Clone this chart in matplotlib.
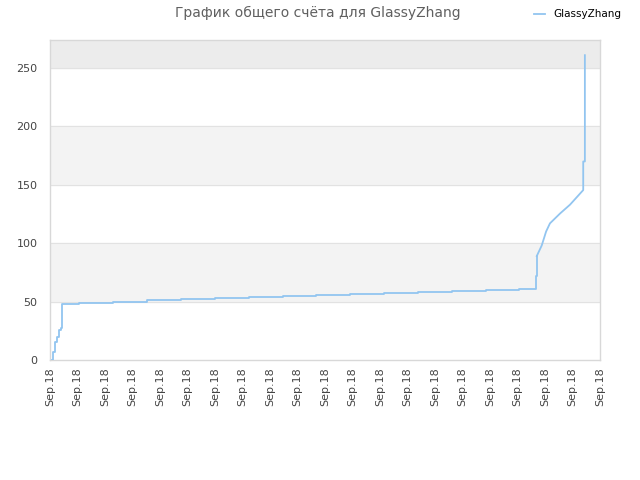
import matplotlib
matplotlib.use('Agg')
import matplotlib.pyplot as plt

title = 'График общего счёта для GlassyZhang'
series_name = 'GlassyZhang'
tick_labels = ['Sep.18'] * 21

# x in tick units (one unit = one tick step), score
# flat, step-wise part
step_x = [0.08, 0.11, 0.18, 0.25, 0.33, 0.40, 0.44, 1.05, 2.29, 3.53,
          4.76, 6.00, 7.24, 8.47, 9.67, 10.91, 12.15, 13.38, 14.62, 15.85,
          17.05, 17.67, 17.70]
step_y = [0, 7, 15, 20, 26, 27, 48, 49, 50, 51,
          52, 53, 54, 55, 55.8, 56.7, 57.5, 58.4, 59.2, 60.1,
          60.9, 72, 89]
# final climb
ramp_x = [17.70, 17.88, 18.04, 18.18, 18.55, 18.91, 19.39, 19.39, 19.45, 19.45]
ramp_y = [89, 98, 110, 117, 125.5, 133, 145.5, 170, 170, 261]

fig = plt.figure(figsize=(6.4, 4.8), dpi=100)
ax = fig.add_axes([50 / 640, 1 - 360 / 480, 550 / 640, 320 / 480])

# alternating bands
ax.axhspan(50, 100, color='#f3f3f3', zorder=0)
ax.axhspan(150, 200, color='#f3f3f3', zorder=0)
ax.axhspan(250, 300, color='#ececec', zorder=0)
for yv in [50, 100, 150, 200, 250]:
    ax.axhline(yv, color='#e2e2e2', lw=0.8, zorder=1)

line_color = '#92c5f0'
ax.plot(step_x, step_y, drawstyle='steps-post', color=line_color, lw=1.3,
        label=series_name, zorder=3)
ax.plot(ramp_x, ramp_y, color=line_color, lw=1.3, zorder=3)

ax.set_xlim(0, 20)
ax.set_ylim(0, 274)
ax.set_xticks(range(21))
ax.set_xticklabels(tick_labels, rotation=90)
ax.set_yticks([0, 50, 100, 150, 200, 250])
ax.tick_params(axis='both', length=0, labelsize=8, colors='#444444')
ax.tick_params(axis='y', pad=9)
ax.tick_params(axis='x', pad=5)
for s in ax.spines.values():
    s.set_color('#d8d8d8')
    s.set_linewidth(1)

fig.text(0.497, 0.972, title, ha='center', va='center', fontsize=10, color='#606060')
fig.legend(loc='center right', bbox_to_anchor=(0.985, 0.97), frameon=False,
           fontsize=7.5, handlelength=1.0, handletextpad=0.8)

plt.savefig('out.png')
